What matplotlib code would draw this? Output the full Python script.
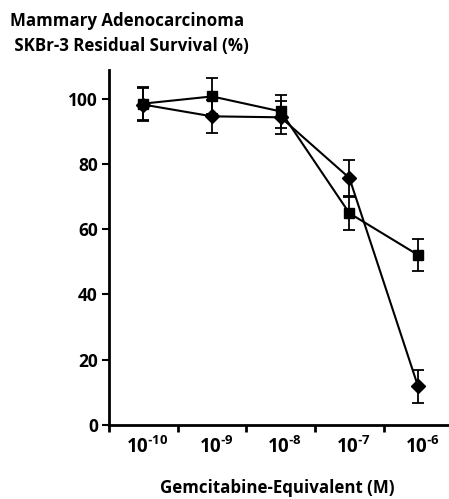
import numpy as np
import matplotlib
matplotlib.use("Agg")
import matplotlib.pyplot as plt

plt.rcParams['font.family'] = ['Open Sans', 'DejaVu Sans']
plt.rcParams['font.weight'] = 'bold'
plt.rcParams['mathtext.fontset'] = 'custom'
plt.rcParams['mathtext.rm'] = 'Open Sans:bold'
plt.rcParams['mathtext.bf'] = 'Open Sans:bold'

# concentrations (categories)
exponents = [-10, -9, -8, -7, -6]
tick_labels = ['$\\mathbf{10^{\u2010%d}}$' % abs(e) for e in exponents]

# diamond series
diamond_vals = [98.2, 94.6, 94.3, 75.7, 11.8]
diamond_err = [5.0, 5.0, 5.0, 5.4, 5.0]

# square series
square_vals = [98.5, 100.7, 96.1, 64.9, 52.1]
square_err = [5.0, 5.5, 5.0, 5.0, 5.0]

x = np.arange(len(exponents))

fig = plt.figure(figsize=(4.49, 4.99), dpi=100)
ax = fig.add_axes([109 / 449, 74 / 499, 340 / 449, 355 / 499])

ax.errorbar(x, square_vals, yerr=square_err, color='black', lw=1.5,
            marker='s', ms=6.5, capsize=4, elinewidth=1.3, capthick=1.3)
ax.errorbar(x, diamond_vals, yerr=diamond_err, color='black', lw=1.5,
            marker='D', ms=7.5, capsize=4, elinewidth=1.3, capthick=1.3)

ax.set_xlim(-0.5, 4.45)
ax.set_ylim(0, 108.8)

ax.set_xticks(np.arange(-0.5, 4.5, 1.0))
ax.set_xticklabels([])
ax.set_xticks(x + 0.06, minor=True)
ax.set_xticklabels(tick_labels, minor=True)
ax.tick_params(axis='x', which='minor', length=0, pad=8, labelsize=13.5)
ax.tick_params(axis='x', which='major', length=5, width=2, direction='out')

ax.set_yticks([0, 20, 40, 60, 80, 100])
ax.tick_params(axis='y', length=5, width=1.5, direction='out', labelsize=12.5, pad=3)
for lab in ax.get_yticklabels():
    lab.set_fontweight('bold')

for s in ['top', 'right']:
    ax.spines[s].set_visible(False)
ax.spines['left'].set_linewidth(2)
ax.spines['bottom'].set_linewidth(2)

fig.text(10 / 449, 1 - 21 / 499, 'Mammary Adenocarcinoma', fontsize=12.2,
         fontweight='bold', va='center', ha='left')
fig.text(10 / 449, 1 - 46 / 499, ' SKBr-3 Residual Survival (%)', fontsize=12.2,
         fontweight='bold', va='center', ha='left')
fig.text(277 / 449, 1 - 488 / 499, 'Gemcitabine-Equivalent (M)', fontsize=12.2,
         fontweight='bold', va='center', ha='center')

fig.savefig('out.png', dpi=100)
